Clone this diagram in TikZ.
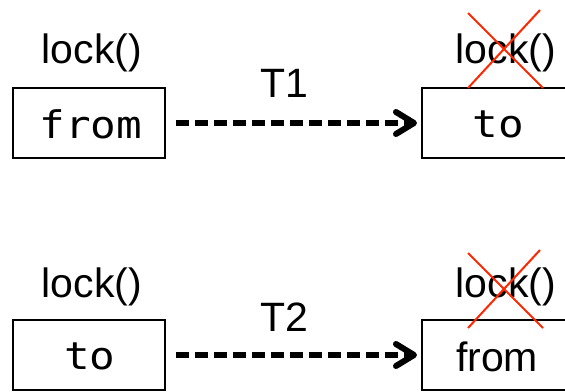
\documentclass[tikz,border=0pt]{standalone}
\usepackage{fontspec}
\setmainfont{Liberation Sans}
\setmonofont{DejaVu Sans Mono}
\usetikzlibrary{calc}
\definecolor{crossred}{RGB}{255,40,0}
\newcommand{\lockfont}{\fontsize{41}{43}\selectfont}
\newcommand{\labfont}{\fontsize{41}{43}\selectfont}
\newcommand{\monotext}[1]{\scalebox{1.12}[1]{\fontsize{38}{40}\selectfont\ttfamily #1}}
\tikzset{
  boxnode/.style={draw, line width=2pt, inner sep=0pt, minimum width=152pt, minimum height=70pt},
  locknode/.style={inner sep=0pt, anchor=base, font=\lockfont},
  tlabel/.style={inner sep=0pt, anchor=base, font=\labfont},
  txt/.style={inner sep=0pt},
  flow/.style={line width=5.5pt, dash pattern=on 13pt off 6pt},
  chevron/.style={line width=6pt, line join=round, line cap=round},
  crossline/.style={crossred, line width=2pt}
}
\begin{document}
\begin{tikzpicture}[x=1pt,y=-1pt]
\useasboundingbox (0,0) rectangle (565,391);
% top row
\node[boxnode] (b1) at (89,123) {};
\node[txt] (t1) at (91,124) {\monotext{from}};
\node[boxnode, minimum width=160pt] (b2) at (502,123) {};
\node[txt] (t2) at (498,124) {\monotext{to}};
\node[locknode] (l1) at (92,63) {lock()};
\node[locknode] (l2) at (506,63) {lock()};
\node[tlabel] (T1) at (284,97) {T1};
\draw[flow, shorten <=10pt, shorten >=10pt] (b1.east) -- (b2.west);
\draw[chevron] ($(b2.west)+(-25,-11)$) -- ($(b2.west)+(-7,0)$) -- ($(b2.west)+(-25,11)$);
\coordinate (c1a) at (468,13); \coordinate (c1b) at (543,88);
\coordinate (c1c) at (540,10); \coordinate (c1d) at (468,88);
\draw[crossline] (c1a) -- (c1b);
\draw[crossline] (c1c) -- (c1d);
% bottom row
\node[boxnode] (b3) at (89,355) {};
\node[txt] (t3) at (90,356) {\monotext{to}};
\node[boxnode, minimum width=160pt] (b4) at (502,355) {};
\node[txt, font=\labfont] (t4) at (497,357) {from};
\node[locknode] (l3) at (92,297) {lock()};
\node[locknode] (l4) at (506,297) {lock()};
\node[tlabel] (T2) at (284,331) {T2};
\draw[flow, shorten <=10pt, shorten >=10pt] (b3.east) -- (b4.west);
\draw[chevron] ($(b4.west)+(-25,-11)$) -- ($(b4.west)+(-7,0)$) -- ($(b4.west)+(-25,11)$);
\coordinate (c2a) at (468,253); \coordinate (c2b) at (543,328);
\coordinate (c2c) at (540,250); \coordinate (c2d) at (468,328);
\draw[crossline] (c2a) -- (c2b);
\draw[crossline] (c2c) -- (c2d);
\end{tikzpicture}
\end{document}
